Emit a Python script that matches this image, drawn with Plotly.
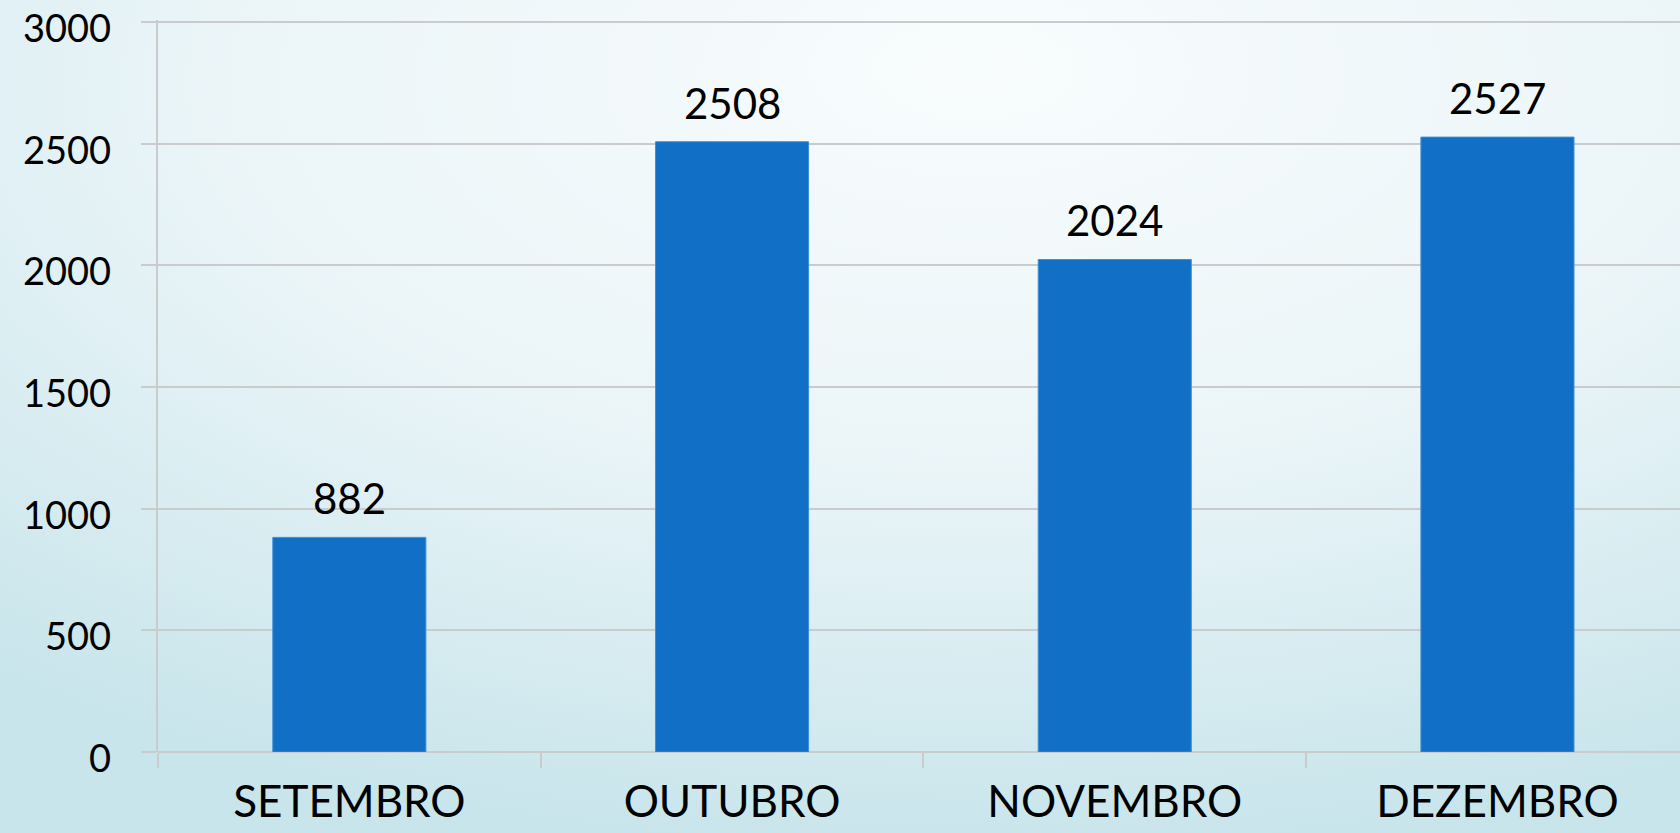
import base64
import plotly.graph_objects as go

# monthly totals
months = ["SETEMBRO", "OUTUBRO", "NOVEMBRO", "DEZEMBRO"]
totals = [882, 2508, 2024, 2527]
y_ticks = [0, 500, 1000, 1500, 2000, 2500, 3000]

W, H = 1680, 833
ML, MR, MT, MB = 158, 0, 20, 81
plot_w = W - ML - MR
plot_h = H - MT - MB
# a little headroom so the 3000 gridline is not clipped at the edge
y_top = 3000 + 2 * 3000 / (plot_h - 2)

# soft radial background like the slide theme
bg_svg = f"""<svg xmlns='http://www.w3.org/2000/svg' width='{W}' height='{H}'>
<defs><radialGradient id='g' cx='0.58' cy='0.12' r='0.9' fx='0.58' fy='0.08'>
<stop offset='0' stop-color='#f8fcfd'/>
<stop offset='0.5' stop-color='#ebf5f8'/>
<stop offset='1' stop-color='#c8e5eb'/>
</radialGradient></defs>
<rect width='100%' height='100%' fill='url(#g)'/></svg>"""
bg_uri = "data:image/svg+xml;base64," + base64.b64encode(bg_svg.encode()).decode()

grid = "#c9cbcc"

fig = go.Figure()
fig.add_trace(go.Bar(
    x=months, y=totals,
    width=0.4,
    marker=dict(color="#1170c6", line=dict(color="#3d8fd6", width=1)),
    hoverinfo="x+y",
))

for m, v in zip(months, totals):
    fig.add_annotation(
        x=m, y=v, text=str(v), showarrow=False,
        yanchor="bottom", yshift=12,
        font=dict(family="Lato", size=42, color="#000000"),
    )

# y tick labels as annotations so they can sit a touch below the gridlines
# (the original uses old-style figures that hang low)
for t in y_ticks:
    fig.add_annotation(
        xref="paper", x=0, y=t, text=str(t), showarrow=False,
        xanchor="right", yanchor="middle", xshift=-45, yshift=-5,
        font=dict(family="Lato", size=38, color="#000000"),
    )

fig.add_layout_image(dict(
    source=bg_uri, xref="paper", yref="paper",
    x=-ML / plot_w, y=1 + MT / plot_h,
    sizex=W / plot_w, sizey=H / plot_h,
    xanchor="left", yanchor="top", sizing="stretch", layer="below",
))

fig.update_layout(
    width=W, height=H,
    margin=dict(l=ML, r=MR, t=MT, b=MB),
    paper_bgcolor="#e4f2f5",
    plot_bgcolor="rgba(0,0,0,0)",
    showlegend=False,
    xaxis=dict(
        range=[-0.5, 3.477], automargin=False,
        tickson="boundaries", ticks="outside", ticklen=15, tickwidth=2, tickcolor=grid,
        showline=False, showgrid=False,
        tickfont=dict(family="Lato", size=44, color="#000000"),
        ticklabelstandoff=20, ticklabeloverflow="allow",
    ),
    yaxis=dict(
        range=[0, y_top], tickvals=y_ticks, automargin=False,
        showticklabels=False,
        showgrid=True, gridcolor=grid, gridwidth=2,
        showline=True, linecolor=grid, linewidth=2,
        ticks="outside", ticklen=15, tickwidth=2, tickcolor=grid,
        zeroline=True, zerolinecolor=grid, zerolinewidth=2,
    ),
)

# drop the browser's default body margin so the chart sits at the page corner
fig.write_html("out.html", config={"displayModeBar": False},
               post_script="document.body.style.margin = '0';")
